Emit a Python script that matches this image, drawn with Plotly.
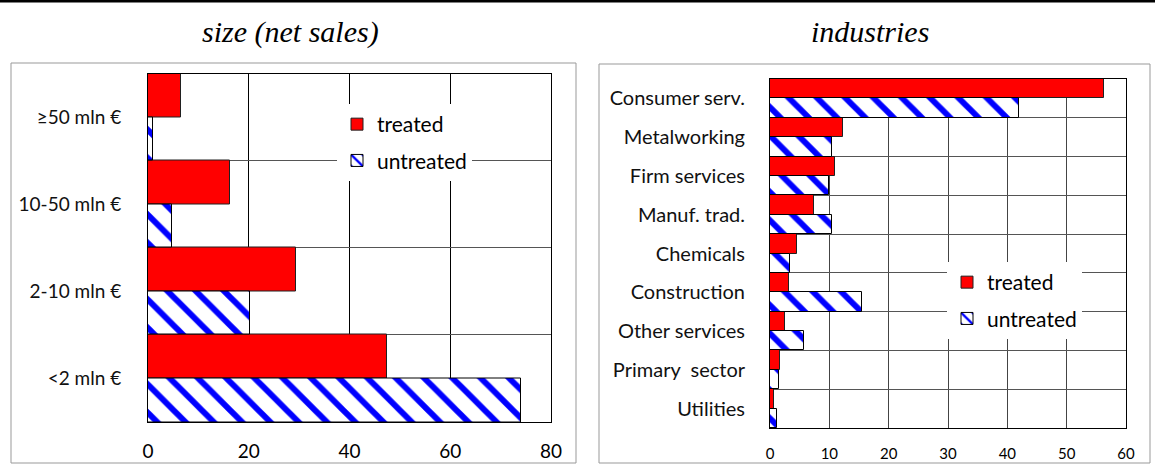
import plotly.graph_objects as go

# ---- data ----
size_cats = ["≥50 mln €", "10-50 mln €", "2-10 mln €", "<2 mln €"]
size_treated = [6.6, 16.2, 29.3, 47.4]
size_untreated = [0.9, 4.7, 20.3, 74.1]

ind_cats = ["Consumer serv.", "Metalworking", "Firm services", "Manuf. trad.",
            "Chemicals", "Construction", "Other services", "Primary  sector", "Utilities"]
ind_treated = [56.3, 12.3, 10.9, 7.4, 4.6, 3.2, 2.5, 1.7, 0.65]
ind_untreated = [41.9, 10.4, 9.9, 10.4, 3.3, 15.5, 5.8, 1.6, 1.1]

size_ticks = [0, 20, 40, 60, 80]
ind_ticks = [0, 10, 20, 30, 40, 50, 60]

W, H = 1155, 469
FONT = "Lato"
RED = "#ff0000"
BLUE = "#0000ff"


def px(x):
    return x / W


def py(y):
    return 1 - y / H


fig = go.Figure()

stripe = dict(shape="\\", fgcolor=BLUE, bgcolor="white", size=20, solidity=0.3, fgopacity=1)

# left panel
fig.add_trace(go.Bar(
    y=size_cats, x=size_treated, orientation="h", name="treated",
    marker=dict(color=RED, line=dict(color="#202020", width=1)),
    xaxis="x", yaxis="y", legend="legend", legendgroup="t1"))
fig.add_trace(go.Bar(
    y=size_cats, x=size_untreated, orientation="h", name="untreated",
    marker=dict(color="white", line=dict(color="#000000", width=1), pattern=stripe),
    xaxis="x", yaxis="y", legend="legend", legendgroup="u1"))

# right panel
fig.add_trace(go.Bar(
    y=ind_cats, x=ind_treated, orientation="h", name="treated",
    marker=dict(color=RED, line=dict(color="#202020", width=1)),
    xaxis="x2", yaxis="y2", legend="legend2", legendgroup="t2"))
fig.add_trace(go.Bar(
    y=ind_cats, x=ind_untreated, orientation="h", name="untreated",
    marker=dict(color="white", line=dict(color="#000000", width=1), pattern=stripe),
    xaxis="x2", yaxis="y2", legend="legend2", legendgroup="u2"))

fig.update_layout(
    width=W, height=H,
    margin=dict(l=0, r=0, t=0, b=0, autoexpand=False),
    paper_bgcolor="white", plot_bgcolor="white",
    barmode="group", bargap=0, bargroupgap=0,
    font=dict(family=FONT, size=16, color="#000000"),
    xaxis=dict(domain=[px(148), px(551)], range=[0, 80], tickvals=size_ticks,
               showgrid=True, gridcolor="#000000", gridwidth=1, zeroline=False,
               showline=True, linecolor="#000000", mirror=True, ticks="",
               tickfont=dict(family=FONT, size=19, color="#000000"),
               anchor="y", automargin=False, ticklabelstandoff=12),
    yaxis=dict(domain=[py(422), py(73.5)], type="category", autorange="reversed",
               tickson="boundaries", showgrid=True, gridcolor="#555555", gridwidth=1,
               showline=True, linecolor="#000000", mirror=True, ticks="",
               tickfont=dict(family=FONT, size=19, color="#111111"),
               anchor="x", automargin=False, ticklabelstandoff=22),
    xaxis2=dict(domain=[px(770), px(1126)], range=[0, 60], tickvals=ind_ticks,
                showgrid=True, gridcolor="#444444", gridwidth=1, zeroline=False,
                showline=True, linecolor="#000000", mirror=True, ticks="",
                tickfont=dict(family=FONT, size=15, color="#000000"),
                anchor="y2", automargin=False, ticklabelstandoff=12),
    yaxis2=dict(domain=[py(428), py(79)], type="category", autorange="reversed",
                tickson="boundaries", showgrid=True, gridcolor="#555555", gridwidth=1,
                showline=True, linecolor="#000000", mirror=True, ticks="",
                tickfont=dict(family=FONT, size=20, color="#111111"),
                anchor="x2", automargin=False, ticklabelstandoff=20),
    legend=dict(x=px(337), y=py(104), xanchor="left", yanchor="top",
                bgcolor="white", borderwidth=0, tracegroupgap=6,
                font=dict(family=FONT, size=21, color="#000000"),
                itemwidth=30),
    legend2=dict(x=px(947), y=py(262), xanchor="left", yanchor="top",
                 bgcolor="white", borderwidth=0, tracegroupgap=6,
                 font=dict(family=FONT, size=21, color="#000000"),
                 itemwidth=30),
    annotations=[
        dict(text="<i>size (net sales)</i>", x=px(290), y=py(32), xref="paper", yref="paper",
             xanchor="center", yanchor="middle", showarrow=False,
             font=dict(family="Liberation Serif", size=30, color="#000000")),
        dict(text="<i>industries</i>", x=px(870), y=py(32), xref="paper", yref="paper",
             xanchor="center", yanchor="middle", showarrow=False,
             font=dict(family="Liberation Serif", size=30, color="#000000")),
    ],
    shapes=[
        dict(type="line", xref="paper", yref="paper", x0=0, x1=1, y0=py(1), y1=py(1),
             line=dict(color="#000000", width=3)),
        dict(type="rect", xref="paper", yref="paper", x0=px(11), x1=px(576), y0=py(463), y1=py(63),
             line=dict(color="#999999", width=1), layer="below"),
        dict(type="rect", xref="paper", yref="paper", x0=px(599), x1=px(1150), y0=py(463), y1=py(64),
             line=dict(color="#999999", width=1), layer="below"),
    ],
)

fig.write_html("out.html",
               config={"displayModeBar": False},
               post_script="document.body.style.margin='0';document.body.style.overflow='hidden';")
